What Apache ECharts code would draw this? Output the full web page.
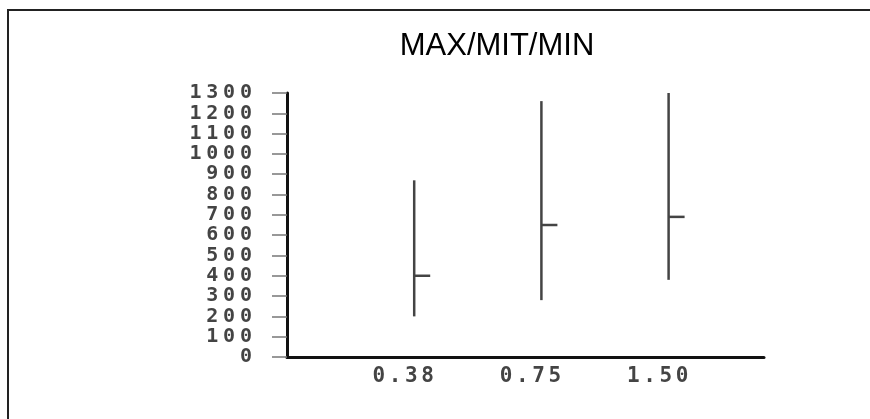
<!DOCTYPE html>
<html>
<head>
<meta charset="utf-8">
<script src="https://cdn.jsdelivr.net/npm/echarts@6/dist/echarts.min.js"></script>
<style>
html,body{margin:0;padding:0;background:#fff;}
#chart{width:870px;height:419px;}
</style>
</head>
<body>
<div id="chart"></div>
<script>
const titleText = 'MAX/MIT/MIN';
const categories = ['0.38', '0.75', '1.50'];
const maxValues = [870, 1260, 1300];
const midValues = [400, 650, 690];
const minValues = [200, 280, 380];
const yTicks = { min: 0, max: 1300, interval: 100 };

const data = categories.map((c, i) => [i + 1, minValues[i], midValues[i], maxValues[i]]);

function spaced(str) {
  return str.split('').map(ch => '{d|' + ch + '}').join('{s| }');
}

const chart = echarts.init(document.getElementById('chart'), null, { renderer: 'canvas' });
chart.setOption({
  backgroundColor: '#fff',
  animation: false,
  title: {
    text: titleText,
    left: 492,
    top: 26,
    textAlign: 'center',
    textStyle: { fontFamily: 'Liberation Sans', fontSize: 31, fontWeight: 'normal', color: '#000' }
  },
  graphic: [
    { type: 'line', shape: { x1: 7, y1: 10, x2: 870, y2: 10 }, style: { stroke: '#222', lineWidth: 2 } },
    { type: 'line', shape: { x1: 8, y1: 10, x2: 8, y2: 419 }, style: { stroke: '#222', lineWidth: 2 } }
  ],
  grid: { left: 287, right: 106, top: 93, bottom: 62, containLabel: false },
  xAxis: {
    type: 'value',
    min: 0,
    max: 3.75,
    interval: 1,
    splitLine: { show: false },
    axisTick: { show: false },
    axisLine: { lineStyle: { color: '#111', width: 3 } },
    axisLabel: {
      margin: 9,
      padding: [0, 22, 0, 0],
      showMinLabel: false,
      formatter: v => spaced(categories[Math.round(v) - 1] || ''),
      rich: {
        d: { fontFamily: 'DejaVu Sans Mono', fontWeight: 'bold', fontSize: 21, color: '#444' },
        s: { fontFamily: 'DejaVu Sans Mono', fontSize: 6, color: '#444' }
      }
    }
  },
  yAxis: {
    type: 'value',
    min: yTicks.min,
    max: yTicks.max,
    interval: yTicks.interval,
    splitLine: { show: false },
    axisLine: { show: true, lineStyle: { color: '#111', width: 3 } },
    axisTick: { show: true, length: 15, lineStyle: { color: '#777', width: 1.5 } },
    axisLabel: {
      margin: 35,
      showMinLabel: true,
      showMaxLabel: true,
      formatter: v => spaced(String(v)),
      rich: {
        d: { fontFamily: 'DejaVu Sans Mono', fontWeight: 'bold', fontSize: 20, color: '#444' },
        s: { fontFamily: 'DejaVu Sans Mono', fontSize: 8, color: '#444' }
      }
    }
  },
  series: [{
    type: 'custom',
    data: data,
    encode: { x: 0, y: [1, 2, 3] },
    renderItem: function (params, api) {
      const x = api.value(0);
      const pMin = api.coord([x, api.value(1)]);
      const pMid = api.coord([x, api.value(2)]);
      const pMax = api.coord([x, api.value(3)]);
      const style = { stroke: '#444', lineWidth: 2.5 };
      return {
        type: 'group',
        children: [
          { type: 'line', shape: { x1: pMax[0], y1: pMax[1], x2: pMin[0], y2: pMin[1] }, style: style },
          { type: 'line', shape: { x1: pMid[0], y1: pMid[1], x2: pMid[0] + 16, y2: pMid[1] }, style: style }
        ]
      };
    }
  }]
});
</script>
</body>
</html>
